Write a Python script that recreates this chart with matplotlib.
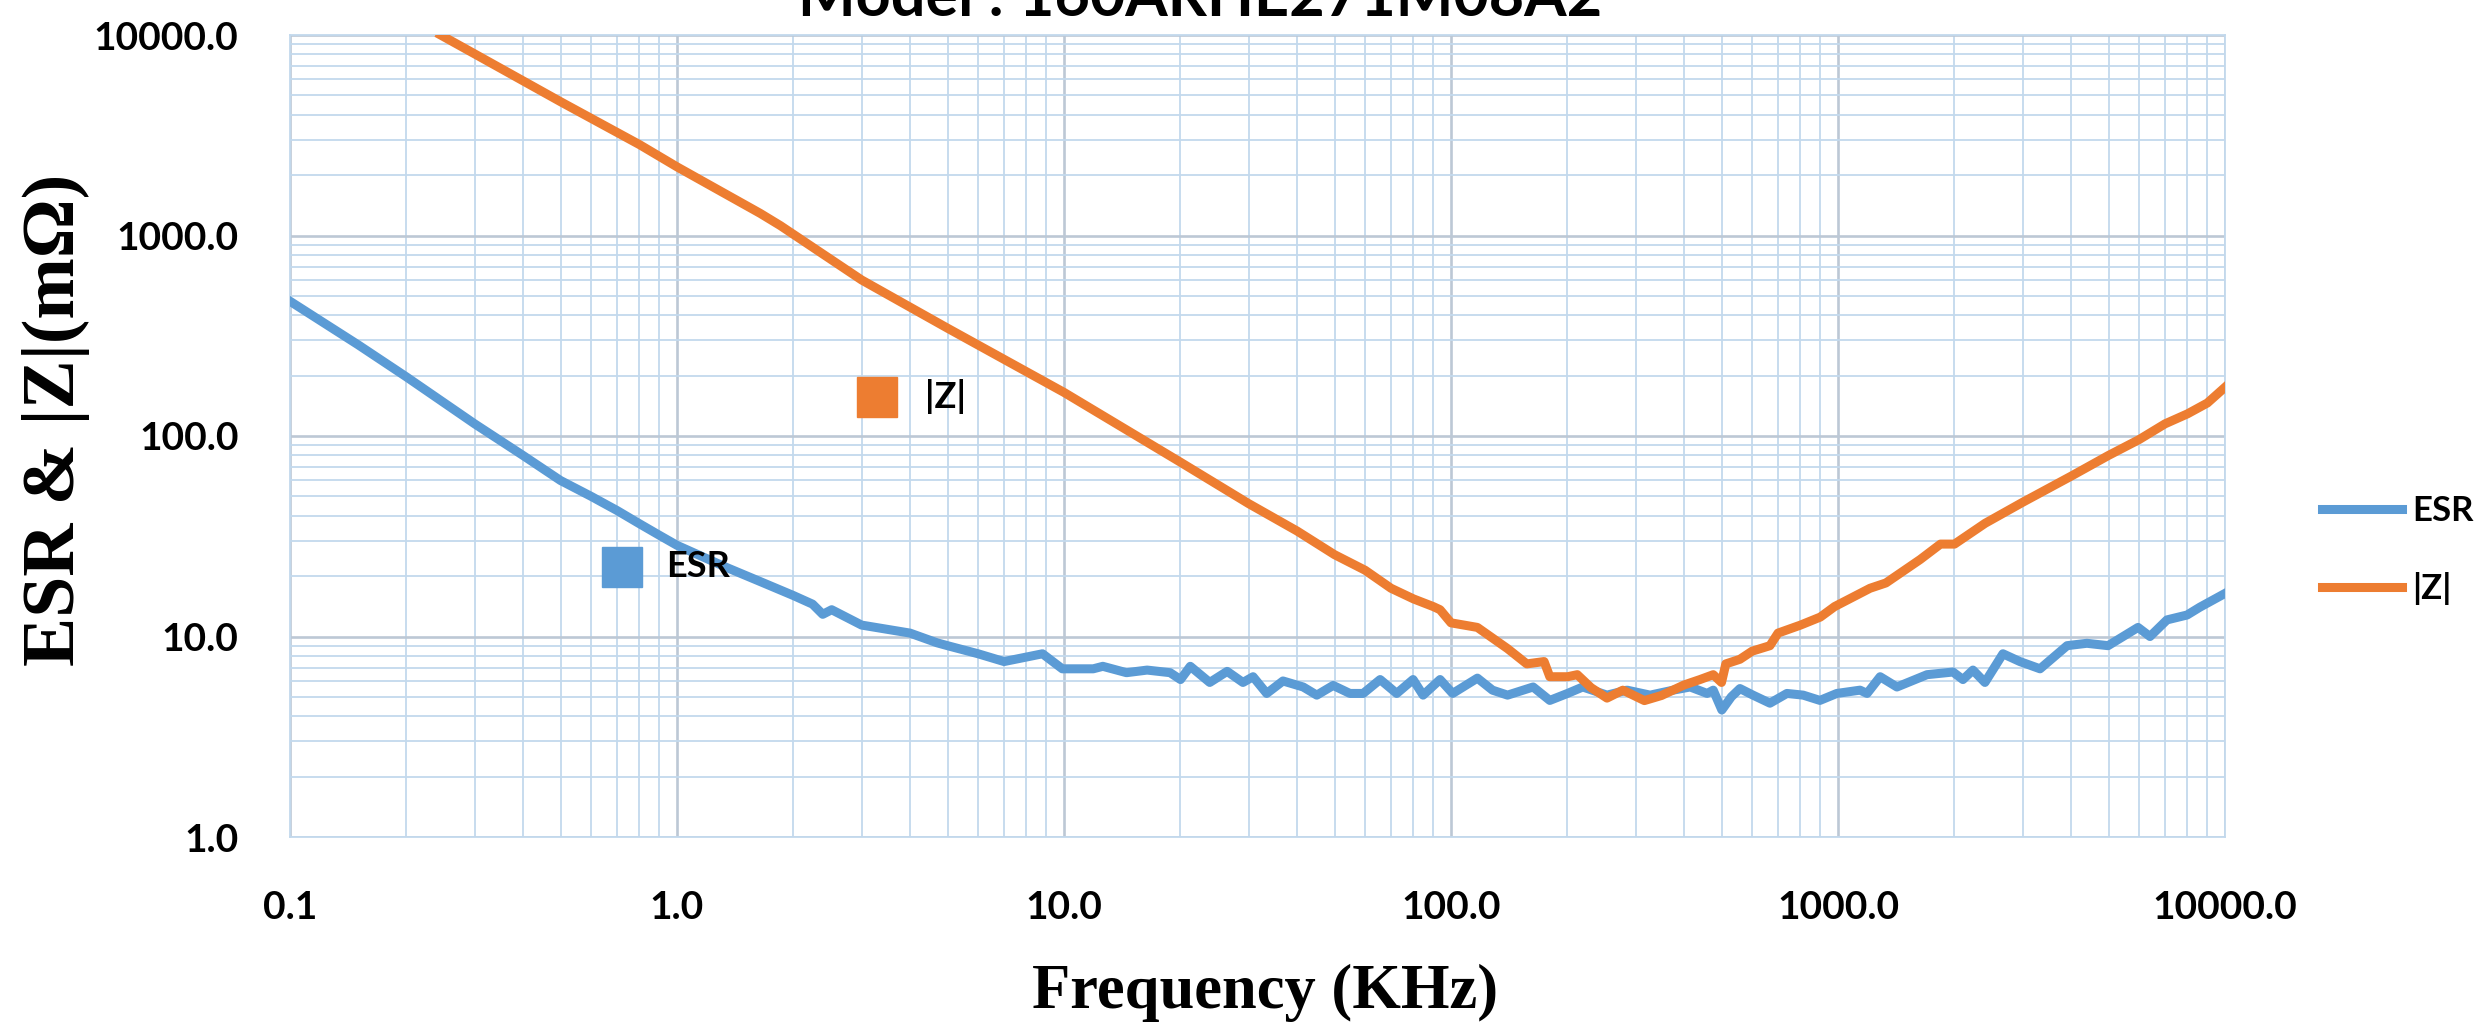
import numpy as np
import matplotlib
matplotlib.use('Agg')
import matplotlib.pyplot as plt
import matplotlib.transforms as mtransforms
from matplotlib.ticker import LogLocator, FuncFormatter, NullFormatter
from matplotlib.lines import Line2D

# ESR 曲线 (KHz, mΩ)
esr_freq = [0.1, 0.15, 0.2, 0.3, 0.4, 0.5, 0.6, 0.7, 0.8, 0.9, 1.0, 1.35, 1.64, 2.0,
            2.24, 2.38, 2.51, 3.0, 4.0, 4.7, 5.0, 6.0, 7.0, 8.0, 8.8, 9.9, 11.9, 12.6,
            14.5, 16.4, 18.8, 20.0, 21.2, 23.8, 26.4, 29.0, 30.8, 33.4, 36.8, 41.5, 45,
            49.6, 54.8, 59.3, 65.6, 72.4, 79.8, 84.7, 93.7, 101, 117, 128, 140, 163, 180,
            200, 219, 253, 285, 327, 375, 415, 459, 476, 501, 530, 558, 603, 667, 738,
            813, 898, 993, 1140, 1189, 1285, 1420, 1698, 1982, 2103, 2232, 2397, 2668,
            2951, 3327, 3908, 4397, 4987, 5960, 6400, 7080, 7980, 8610, 10000]
esr_vals = [470, 285, 197, 115, 80, 60, 50, 42.5, 36.5, 32, 28.5, 22, 18.8, 16,
            14.5, 12.9, 13.6, 11.4, 10.4, 9.3, 9.0, 8.2, 7.5, 7.9, 8.2, 6.9, 6.9, 7.1,
            6.6, 6.8, 6.6, 6.1, 7.1, 5.9, 6.7, 5.9, 6.3, 5.2, 6.0, 5.6, 5.1,
            5.7, 5.2, 5.2, 6.1, 5.2, 6.1, 5.1, 6.1, 5.2, 6.2, 5.4, 5.1, 5.6, 4.8,
            5.2, 5.6, 5.1, 5.4, 5.1, 5.4, 5.6, 5.2, 5.4, 4.3, 5.0, 5.5, 5.1, 4.65, 5.2,
            5.1, 4.8, 5.2, 5.4, 5.2, 6.3, 5.6, 6.45, 6.65, 6.1, 6.8, 5.9, 8.2,
            7.5, 6.9, 9.0, 9.25, 9.0, 11.1, 10.0, 12.1, 12.8, 14.0, 16.4]

# |Z| 曲线 (KHz, mΩ)
z_freq = [0.245, 0.3, 0.5, 0.8, 1.0, 1.64, 1.85, 3.0, 5.0, 10, 20, 30, 40, 50, 60, 70,
          80, 90, 93.7, 100, 117, 140, 157, 174, 180, 200, 212, 230, 253, 278, 316, 350,
          400, 440, 476, 500, 513, 558, 600, 667, 700, 800, 900, 980, 1210, 1330, 1630,
          1840, 2000, 2400, 3000, 4000, 5000, 6000, 7000, 8000, 9000, 10000]
z_vals = [10000, 8050, 4650, 2840, 2200, 1290, 1120, 600, 345, 165, 74, 46, 33.6, 25.6,
          21.4, 17.4, 15.4, 14.1, 13.6, 11.7, 11.1, 8.7, 7.3, 7.5, 6.3, 6.3, 6.45, 5.56,
          4.93, 5.4, 4.79, 5.08, 5.73, 6.1, 6.45, 5.9, 7.3, 7.7, 8.45, 9.0, 10.4, 11.4,
          12.5, 14.1, 17.4, 18.5, 24.2, 28.9, 28.9, 36.7, 46.7, 63, 80, 96, 115, 129,
          146, 175]

title = 'Model : 160ARHE271M08A2'
BLUE = '#5b9bd5'
ORANGE = '#ed7d31'
SANS = 'Lato'
SERIF = 'Liberation Serif'
LW = 6.5

W, H = 2481, 1024
fig = plt.figure(figsize=(W / 100, H / 100), dpi=100)
fig.patch.set_facecolor('white')
ax = fig.add_axes([290 / W, 1 - 837 / H, (2225 - 290) / W, (837 - 35) / H])

ax.set_xscale('log')
ax.set_yscale('log')
ax.plot(esr_freq, esr_vals, color=BLUE, lw=LW, solid_joinstyle='round', label='ESR', zorder=3)
ax.plot(z_freq, z_vals, color=ORANGE, lw=LW, solid_joinstyle='round', label='|Z|', zorder=4)
ax.set_xlim(0.1, 10000)
ax.set_ylim(1, 10000)

fmt = FuncFormatter(lambda v, p: '%.1f' % v)
for axis in (ax.xaxis, ax.yaxis):
    axis.set_major_locator(LogLocator(base=10, numticks=12))
    axis.set_minor_locator(LogLocator(base=10, subs=np.arange(2, 10), numticks=100))
    axis.set_major_formatter(fmt)
    axis.set_minor_formatter(NullFormatter())

ax.grid(which='major', color='#bcc8d5', lw=1.9)
ax.grid(which='minor', color='#c3d9ed', lw=1.3)
ax.set_axisbelow(True)
ax.tick_params(which='both', length=0)
ax.tick_params(axis='y', pad=37)
ax.tick_params(axis='x', pad=38)
for lab in ax.get_xticklabels() + ax.get_yticklabels():
    lab.set_fontfamily(SANS)
    lab.set_fontweight('bold')
    lab.set_fontsize(28)
for sp in ax.spines.values():
    sp.set_color('#c3d9ed')
    sp.set_linewidth(1.3)

# 数据标签 (带图例标识)
def data_label(x, y, text, color, mdx, tdx, dy):
    mtr = mtransforms.offset_copy(ax.transData, fig=fig, x=mdx, y=dy, units='dots')
    ax.plot([x], [y], marker='s', ms=29, color=color, ls='none', transform=mtr, zorder=5)
    ttr = mtransforms.offset_copy(ax.transData, fig=fig, x=tdx, y=dy, units='dots')
    ax.text(x, y, text, transform=ttr, ha='left', va='center', fontsize=26,
            fontfamily=SANS, fontweight='bold', color='black', zorder=5)

i = esr_freq.index(0.8)
data_label(esr_freq[i], esr_vals[i], 'ESR', BLUE, -17, 27, -43)
j = z_freq.index(3.0)
data_label(z_freq[j], z_vals[j], '|Z|', ORANGE, 15, 63, -117)

# 右侧图例
handles = [Line2D([], [], color=BLUE, lw=LW), Line2D([], [], color=ORANGE, lw=LW)]
fig.legend(handles, ['ESR', '|Z|'], loc='center left', bbox_to_anchor=(2322 / W, 1 - 550 / H),
           frameon=False, prop={'family': SANS, 'weight': 'bold', 'size': 25},
           handlelength=2.3, handletextpad=0.3, labelspacing=1.3,
           borderpad=0, borderaxespad=0)

fig.text(1200 / W, 1 - 16 / H, title, ha='center', va='baseline', fontsize=44,
         fontfamily=SANS, fontweight='bold')
fig.text(1265 / W, 1 - 1008 / H, 'Frequency (KHz)', ha='center', va='baseline',
         fontsize=45, fontfamily=SERIF, fontweight='bold')
fig.text(56 / W, 1 - 420 / H, 'ESR & |Z|(mΩ)', rotation=90, ha='center', va='center',
         fontsize=53, fontfamily=SERIF, fontweight='bold')

fig.savefig('out.png', dpi=100, facecolor='white')
